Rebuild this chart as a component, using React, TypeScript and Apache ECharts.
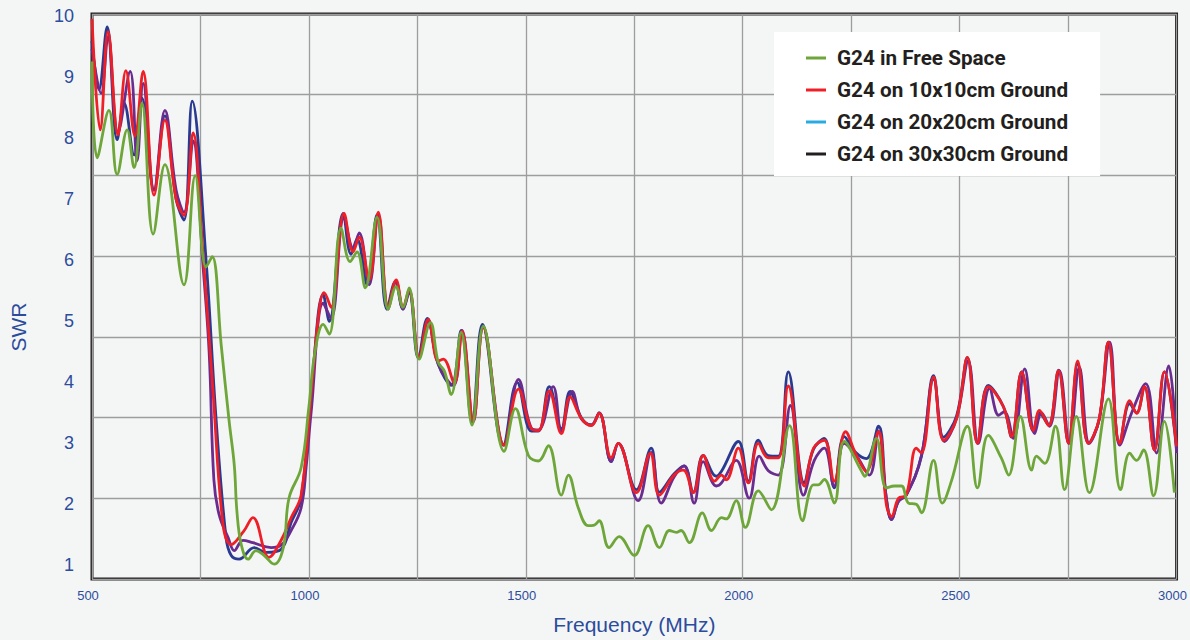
import React, { useEffect, useRef } from "react";
import * as echarts from "echarts";

// [frequency MHz, SWR]
const freeSpace: number[][] = [
  [500, 9.26], [512, 7.68], [539, 8.46], [558, 7.41], [581, 8.14], [597, 7.52], [615, 8.58], [641, 6.43],
  [668, 7.57], [712, 5.6], [738, 7.39], [763, 5.89], [777, 6.06], [798, 4.6], [816, 3.37], [828, 2.64],
  [834, 1.89], [844, 1.34], [860, 1.1], [878, 1.24], [894, 1.18], [920, 1.02], [941, 1.29], [954, 2.1],
  [982, 2.6], [1000, 3.6], [1014, 4.5], [1033, 4.95], [1047, 4.79], [1074, 6.53], [1095, 5.98], [1111, 6.14],
  [1130, 5.55], [1157, 6.71], [1183, 5.2], [1201, 5.57], [1217, 5.23], [1231, 5.55], [1254, 4.38], [1280, 4.98],
  [1298, 4.33], [1312, 4.19], [1328, 3.8], [1351, 4.82], [1376, 3.3], [1402, 4.92], [1450, 2.87], [1476, 3.57],
  [1506, 2.8], [1529, 2.71], [1552, 2.96], [1582, 2.15], [1598, 2.48], [1621, 1.94], [1644, 1.65], [1658, 1.66],
  [1669, 1.73], [1692, 1.29], [1715, 1.47], [1750, 1.16], [1782, 1.65], [1808, 1.29], [1831, 1.57], [1847, 1.54],
  [1858, 1.57], [1877, 1.37], [1907, 1.86], [1928, 1.57], [1951, 1.78], [1962, 1.76], [1985, 2.06], [2006, 1.62],
  [2036, 2.22], [2066, 1.91], [2108, 3.29], [2138, 1.73], [2163, 2.32], [2174, 2.32], [2188, 2.41], [2211, 2.02],
  [2234, 3.03], [2274, 2.54], [2281, 2.46], [2308, 3.08], [2331, 2.27], [2350, 2.3], [2366, 2.3], [2382, 2.02],
  [2400, 2.0], [2412, 1.86], [2440, 2.72], [2460, 2.02], [2481, 2.38], [2518, 3.28], [2541, 2.27], [2566, 3.13],
  [2596, 2.76], [2613, 2.48], [2640, 3.44], [2666, 2.56], [2677, 2.79], [2696, 2.67], [2721, 3.28], [2742, 2.24],
  [2769, 3.44], [2799, 2.19], [2843, 3.73], [2871, 2.24], [2892, 2.84], [2908, 2.72], [2924, 2.89], [2947, 2.14],
  [2972, 3.36], [2995, 2.19],
];

const ground10: number[][] = [
  [500, 9.96], [519, 8.14], [537, 9.75], [560, 8.06], [578, 9.11], [599, 8.04], [618, 9.1], [643, 7.07],
  [668, 8.3], [694, 7.0], [712, 6.74], [733, 8.09], [756, 6.1], [779, 3.85], [802, 1.67], [821, 1.34],
  [849, 1.55], [871, 1.78], [908, 1.13], [936, 1.41], [959, 1.78], [982, 2.15], [1005, 3.8], [1024, 5.2],
  [1035, 5.47], [1051, 5.23], [1081, 6.77], [1102, 6.14], [1116, 6.38], [1139, 5.68], [1160, 6.79], [1183, 5.23],
  [1201, 5.68], [1217, 5.24], [1231, 5.52], [1254, 4.41], [1275, 5.03], [1298, 4.35], [1310, 4.38], [1335, 3.98],
  [1353, 4.84], [1379, 3.36], [1402, 4.9], [1450, 2.97], [1483, 3.89], [1513, 3.24], [1529, 3.21], [1554, 3.86],
  [1582, 3.16], [1602, 3.76], [1628, 3.41], [1651, 3.29], [1669, 3.49], [1697, 2.76], [1713, 3.0], [1755, 2.19],
  [1787, 2.84], [1808, 2.15], [1842, 2.48], [1863, 2.56], [1886, 2.19], [1909, 2.8], [1935, 2.38], [1951, 2.48],
  [1962, 2.4], [1990, 2.92], [2013, 2.35], [2036, 3.0], [2059, 2.76], [2082, 2.76], [2105, 3.94], [2142, 2.3],
  [2163, 2.92], [2188, 3.05], [2211, 2.38], [2237, 3.19], [2262, 2.8], [2285, 2.54], [2313, 3.19], [2331, 2.0],
  [2343, 1.8], [2359, 2.1], [2377, 2.15], [2400, 2.92], [2412, 2.84], [2440, 4.09], [2463, 3.05], [2493, 3.41],
  [2518, 4.41], [2541, 3.0], [2566, 3.93], [2601, 3.6], [2620, 3.11], [2643, 4.17], [2670, 3.21], [2684, 3.54],
  [2705, 3.29], [2728, 4.19], [2751, 3.0], [2772, 4.35], [2797, 3.0], [2822, 3.41], [2843, 4.66], [2869, 3.0],
  [2892, 3.7], [2908, 3.49], [2926, 3.93], [2949, 2.89], [2972, 4.17], [3000, 2.95],
];

const ground20: number[][] = [
  [500, 9.6], [516, 8.8], [535, 9.83], [558, 7.98], [574, 8.58], [597, 7.73], [615, 8.66], [643, 7.16],
  [668, 8.37], [694, 7.0], [712, 6.66], [731, 8.61], [763, 6.0], [786, 3.4], [809, 1.45], [821, 1.16],
  [839, 1.1], [874, 1.29], [901, 1.21], [936, 1.26], [959, 1.7], [982, 2.1], [1005, 3.8], [1033, 5.44],
  [1047, 5.0], [1079, 6.77], [1097, 6.1], [1111, 6.35], [1134, 5.6], [1157, 6.75], [1180, 5.2], [1199, 5.65],
  [1217, 5.2], [1231, 5.48], [1252, 4.4], [1273, 5.05], [1298, 4.3], [1328, 3.95], [1351, 4.85], [1376, 3.35],
  [1400, 4.95], [1448, 2.97], [1480, 4.0], [1513, 3.2], [1529, 3.2], [1554, 3.93], [1582, 3.24], [1602, 3.85],
  [1628, 3.42], [1651, 3.3], [1669, 3.5], [1697, 2.7], [1713, 3.0], [1755, 2.24], [1789, 2.92], [1808, 2.2],
  [1842, 2.5], [1865, 2.63], [1886, 2.2], [1909, 2.8], [1939, 2.46], [1951, 2.54], [1990, 3.03], [2013, 2.38],
  [2036, 3.05], [2059, 2.8], [2082, 2.79], [2105, 4.17], [2142, 2.35], [2163, 2.9], [2188, 3.08], [2211, 2.27],
  [2234, 3.11], [2262, 2.84], [2285, 2.75], [2313, 3.28], [2331, 2.1], [2343, 1.75], [2359, 2.05], [2377, 2.15],
  [2412, 2.79], [2440, 4.11], [2463, 3.1], [2493, 3.45], [2518, 4.41], [2541, 3.0], [2566, 3.95], [2601, 3.6],
  [2620, 3.1], [2643, 4.17], [2670, 3.2], [2684, 3.5], [2705, 3.3], [2728, 4.2], [2751, 3.0], [2772, 4.3],
  [2797, 3.0], [2822, 3.4], [2843, 4.66], [2869, 3.0], [2892, 3.65], [2908, 3.5], [2926, 3.93], [2949, 2.89],
  [2972, 4.17], [3000, 2.9],
];

const ground30: number[][] = [
  [500, 9.47], [521, 8.74], [537, 9.67], [560, 8.1], [588, 9.1], [604, 7.63], [618, 8.9], [643, 7.15],
  [668, 8.46], [694, 7.15], [712, 6.79], [733, 7.96], [756, 5.9], [770, 4.5], [781, 2.4], [793, 1.83],
  [814, 1.45], [828, 1.24], [848, 1.41], [871, 1.37], [913, 1.29], [936, 1.33], [959, 1.57], [982, 1.94],
  [994, 2.64], [1005, 3.5], [1033, 5.3], [1051, 5.05], [1081, 6.7], [1102, 6.2], [1116, 6.45], [1139, 5.6],
  [1160, 6.75], [1183, 5.2], [1201, 5.65], [1217, 5.2], [1231, 5.5], [1254, 4.4], [1275, 5.0], [1298, 4.3],
  [1333, 3.95], [1353, 4.85], [1379, 3.35], [1402, 4.9], [1450, 2.97], [1483, 4.05], [1513, 3.25], [1529, 3.22],
  [1563, 3.93], [1582, 3.2], [1607, 3.85], [1628, 3.4], [1651, 3.3], [1669, 3.5], [1697, 2.7], [1713, 3.0],
  [1759, 2.06], [1789, 2.85], [1812, 2.02], [1842, 2.45], [1865, 2.63], [1888, 2.02], [1909, 2.7], [1939, 2.3],
  [1951, 2.35], [1985, 2.72], [2015, 2.1], [2038, 2.79], [2059, 2.55], [2082, 2.48], [2110, 3.62], [2140, 2.15],
  [2165, 2.72], [2188, 2.92], [2211, 2.3], [2234, 3.0], [2262, 2.8], [2292, 2.48], [2313, 3.2], [2331, 2.1],
  [2343, 1.75], [2359, 2.05], [2377, 2.15], [2412, 2.8], [2440, 4.05], [2465, 3.03], [2493, 3.41], [2520, 4.35],
  [2543, 3.0], [2569, 3.9], [2590, 3.46], [2603, 3.52], [2624, 3.08], [2650, 4.22], [2673, 3.16], [2689, 3.5],
  [2707, 3.28], [2730, 4.19], [2753, 3.0], [2776, 4.25], [2799, 3.0], [2822, 3.4], [2846, 4.66], [2869, 2.97],
  [2896, 3.49], [2929, 3.98], [2954, 2.84], [2982, 4.27], [3000, 2.84],
];

const xTickLabels = [500, 1000, 1500, 2000, 2500, 3000];
const yTickLabels = [1, 2, 3, 4, 5, 6, 7, 8, 9, 10];

const seriesNames = [
  "G24 in Free Space",
  "G24 on 10x10cm Ground",
  "G24 on 20x20cm Ground",
  "G24 on 30x30cm Ground",
];

const AXIS_BLUE = "#2c4c9c";
const GREEN = "#6fa63a";
const RED = "#ee1f27";
const NAVY = "#2a3a90";
const PURPLE = "#6a2d8f";

export default function App() {
  const ref = useRef<HTMLDivElement>(null);

  useEffect(() => {
    document.body.style.margin = "0";
    if (!ref.current) return;
    const chart = echarts.init(ref.current, undefined, { renderer: "svg" });

    const line = (name: string, data: number[][], color: string) => ({
      name,
      type: "line",
      data,
      smooth: 0.4,
      symbol: "none",
      xAxisIndex: 0,
      yAxisIndex: 0,
      lineStyle: { color, width: 2.8 },
      itemStyle: { color },
    });

    const option: any = {
      animation: false,
      backgroundColor: "#f4f6f6",
      grid: {
        left: 92,
        right: 13,
        top: 14,
        bottom: 58,
        show: true,
        borderColor: "#231f20",
        borderWidth: 3,
        backgroundColor: "transparent",
      },
      xAxis: {
        type: "value",
        min: 500,
        max: 3000,
        interval: 250,
        axisLine: { show: false },
        axisTick: { show: false },
        splitLine: { show: true, lineStyle: { color: "#9d9d9d", width: 1.3 } },
        axisLabel: {
          customValues: xTickLabels,
          formatter: (v: number) => String(v),
          color: AXIS_BLUE,
          fontSize: 13,
          margin: 10,
          padding: [0, 8, 0, 0],
          fontFamily: "Liberation Sans",
        },
        name: "Frequency (MHz)",
        nameLocation: "middle",
        nameGap: 35,
        nameTextStyle: { color: AXIS_BLUE, fontSize: 21, fontFamily: "Liberation Sans" },
      },
      yAxis: [
        {
          type: "value",
          min: 0.775,
          max: 10.04,
          axisLine: { show: false },
          axisTick: { show: false },
          splitLine: { show: false },
          axisLabel: {
            customValues: yTickLabels,
            color: AXIS_BLUE,
            fontSize: 18,
            margin: 18,
            fontFamily: "Liberation Sans",
          },
        },
        {
          type: "value",
          min: 0,
          max: 7,
          interval: 1,
          position: "right",
          axisLine: { show: false },
          axisTick: { show: false },
          axisLabel: { show: false },
          splitLine: { show: true, lineStyle: { color: "#9d9d9d", width: 1.3 } },
        },
      ],
      legend: {
        orient: "vertical",
        left: 774,
        top: 32,
        backgroundColor: "#ffffff",
        padding: [14, 32, 10, 32],
        itemWidth: 20,
        itemHeight: 3,
        itemGap: 8,
        icon: "rect",
        textStyle: {
          fontFamily: "Roboto",
          fontWeight: "bold",
          fontSize: 20.7,
          color: "#231f20",
          lineHeight: 24,
          padding: [0, 0, 0, 6],
        },
        data: [
          { name: seriesNames[0], itemStyle: { color: GREEN } },
          { name: seriesNames[1], itemStyle: { color: RED } },
          { name: seriesNames[2], itemStyle: { color: "#29abe2" } },
          { name: seriesNames[3], itemStyle: { color: "#231f20" } },
        ],
      },
      graphic: [
        {
          type: "text",
          x: 18,
          y: 327,
          rotation: Math.PI / 2,
          style: {
            text: "SWR",
            fill: AXIS_BLUE,
            font: "21px 'Liberation Sans'",
            textAlign: "center",
            textVerticalAlign: "middle",
          },
        },
      ],
      series: [
        line(seriesNames[2], ground20, NAVY),
        line(seriesNames[3], ground30, PURPLE),
        line(seriesNames[1], ground10, RED),
        line(seriesNames[0], freeSpace, GREEN),
      ],
    };

    chart.setOption(option);
    return () => chart.dispose();
  }, []);

  return <div ref={ref} style={{ width: 1190, height: 640 }} />;
}
